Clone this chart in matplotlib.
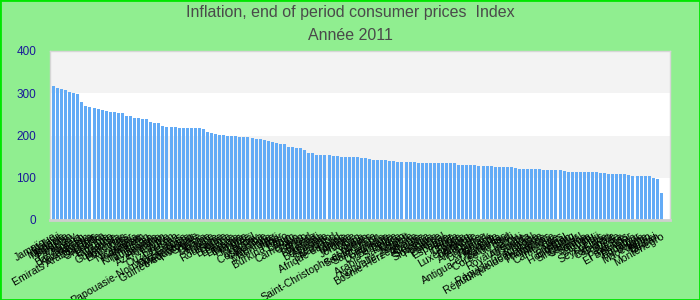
import matplotlib
matplotlib.use("Agg")
import matplotlib.pyplot as plt
from matplotlib.patches import Rectangle

# Index values, 2011 (sorted descending)
values = [
    317, 312, 310, 308, 303, 300, 298, 279, 270, 267, 265, 263, 260, 258, 256, 256,
    253, 253, 246, 246, 241, 241, 239, 239, 232, 229, 229, 222, 220, 220, 220,
    218, 218, 218, 218, 218, 218,
    215, 208, 206, 203, 201, 201, 199, 199, 199, 196, 196, 196, 194, 192, 192, 189,
    187, 185, 182, 180, 180, 173, 173, 170, 170, 166, 159, 159, 154, 154, 154, 154,
    151, 151, 149, 149, 149,
    149, 149, 147, 147, 144, 142, 142, 142, 142, 140, 140, 137, 137, 137, 137, 137,
    135, 135, 135, 135, 135, 135, 135, 135, 135, 135, 130, 130, 130, 130, 130,
    128, 128, 128, 128, 125, 125, 125, 125, 125, 123, 121,
    121, 121, 121, 121, 121, 118, 118, 118, 118, 118, 116, 114, 114, 114, 114, 114,
    114, 114, 114, 111, 111, 109, 109, 109, 109, 109, 107, 104, 104, 104, 104, 104,
    99, 97, 64,
]

countries = [
    "Jamaïque", "Malawi", "Moldavie", "Mongolie", "Pakistan", "Paraguay", "Nigéria",
    "Bangladesh", "Kazakhstan", "Kenya", "Emirats Arabes Unis", "Ouganda", "Sri Lanka",
    "Ethiopie", "Tanzanie", "Zambie", "Guatemala", "Honduras", "Etats-Unis", "Qatar",
    "Nicaragua", "Indonésie", "Vietnam", "Kirghizistan", "Tadjikistan", "Géorgie",
    "Arménie", "Azerbaïdjan", "Egypte", "Iran", "Ouzbékistan", "Bélarus",
    "Papouasie-Nouvelle-Guinée", "Mozambique", "Madagascar", "Guinée équatoriale",
    "Guinée", "Ghana", "Ukraine", "Russie", "Turquie", "Roumanie", "Serbie", "Bulgarie",
    "Lettonie", "Lituanie", "Estonie", "Hongrie", "Islande", "Brésil", "Uruguay",
    "Costa Rica", "Colombie", "Mexique", "Mauritanie", "Mali", "Niger", "Burkina Faso",
    "Bénin", "Togo", "Cameroun", "Gabon", "Congo", "Tchad", "Rwanda", "Burundi",
    "Botswana", "Namibie", "Lesotho", "Swaziland", "Afrique du Sud", "Maroc", "Tunisie",
    "Algérie", "Jordanie", "Liban", "Syrie", "Yémen", "Saint-Christophe-et-Niévès",
    "Sainte-Lucie", "Saint-Marin", "Grenade", "Dominique",
    "Barbade", "Belize", "Arabie Saoudite", "Oman", "Koweït", "Nouvelle-Zélande",
    "Bosnie-Herzégovine", "Albanie", "Croatie", "Slovénie", "Slovaquie", "Pologne",
    "Grèce", "Portugal", "Espagne", "Italie", "Irlande", "Chypre", "Malte",
    "Luxembourg", "Belgique", "Autriche", "Allemagne", "France", "Danemark",
    "Norvège", "Finlande", "Antigua-et-Barbuda", "Bahamas", "Corée du Sud", "Chili",
    "Pérou", "Royaume-Uni", "Australie", "Canada", "Israël", "République tchèque",
    "République dominicaine", "Thaïlande", "Philippines", "Malaisie", "Cambodge",
    "Laos", "Népal", "Bhoutan", "Hong Kong", "Singapour", "Sénégal", "Samoa",
    "Tonga", "Vanuatu", "Fidji", "Seychelles", "Maurice", "Cap-Vert", "Gambie",
    "Suède", "Suisse", "Pays-Bas", "El Salvador", "Panama", "Equateur", "Bolivie",
    "Macédoine", "Japon", "Brunei", "Taïwan", "Monténégro",
]

title_line1 = "Inflation, end of period consumer prices  Index"
title_line2 = "Année 2011"

yticks = [0, 100, 200, 300, 400]


def main():
    plt.rcParams["font.family"] = ["Liberation Sans", "DejaVu Sans"]

    fig = plt.figure(figsize=(7, 3), dpi=100, facecolor="#90ee90")
    ax = fig.add_axes([50 / 700, 80 / 300, 620 / 700, 169 / 300])
    ax.set_facecolor("white")

    # alternating horizontal bands
    for lo, hi, col in [(0, 100, "white"), (100, 200, "#f3f3f3"),
                        (200, 300, "white"), (300, 400, "#f3f3f3")]:
        ax.axhspan(lo, hi, color=col, lw=0, zorder=0)

    x = list(range(len(values)))
    ax.bar(x, values, width=0.74, color="#63abf6", zorder=2)

    ax.set_xlim(-0.86, len(values) + 1.14)
    ax.set_ylim(0, 400)
    ax.set_yticks(yticks)
    ax.tick_params(axis="y", length=0, pad=10, labelsize=8.5, labelcolor="#1a1a99")
    ax.set_xticks(x)
    ax.set_xticklabels(countries[:len(values)], rotation=30, ha="right",
                       rotation_mode="anchor", fontsize=7.6, color="black")
    ax.tick_params(axis="x", length=0, pad=8)

    for side in ["left", "right", "top"]:
        ax.spines[side].set_color("#d6d6d6")
        ax.spines[side].set_linewidth(1)
    ax.spines["bottom"].set_color("#cfcfcf")
    ax.spines["bottom"].set_linewidth(2)

    fig.text(0.5, 1 - 12 / 300, title_line1, ha="center", va="center",
             fontsize=11.5, color="#4a4a4a")
    fig.text(0.5, 1 - 36 / 300, title_line2, ha="center", va="center",
             fontsize=11.5, color="#4a4a4a")

    fig.patches.append(Rectangle((0, 0), 1, 1, transform=fig.transFigure,
                                 fill=False, edgecolor="#00e600", lw=2))

    fig.savefig("out.png", dpi=100, facecolor=fig.get_facecolor())


if __name__ == "__main__":
    main()
